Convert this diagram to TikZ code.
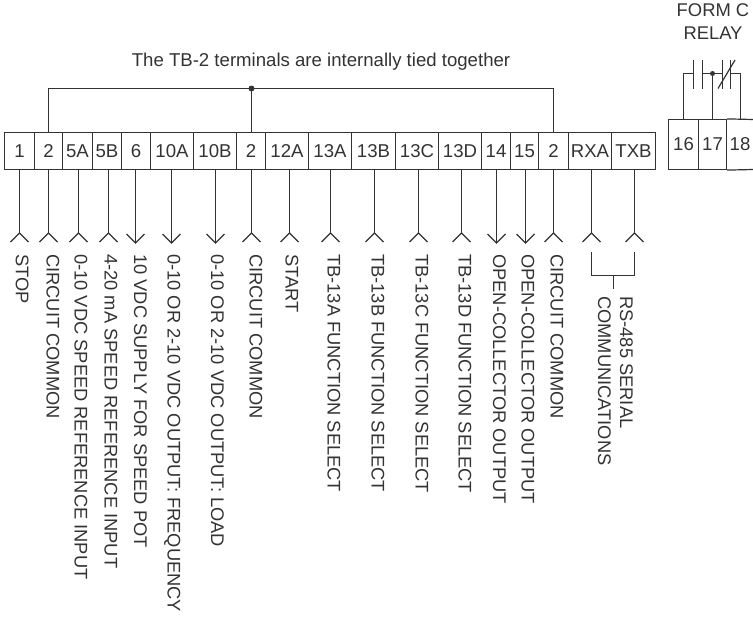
\documentclass[tikz,border=0pt]{standalone}
\usepackage{fontspec}
\setmainfont{Liberation Sans}
\definecolor{ink}{HTML}{333333}
\tikzset{
  wire/.style={draw=ink,line width=1.2pt},
  term/.style={draw=ink,line width=1.2pt,inner sep=0pt,minimum height=37pt,text=ink,font=\fontsize{18.6}{18.6}\selectfont},
  relayterm/.style={term,minimum height=50pt},
  vlabel/.style={rotate=-90,anchor=base west,inner sep=0pt,text=ink,font=\fontsize{18.3}{18.3}\selectfont},
  title/.style={inner sep=0pt,text=ink,font=\fontsize{18.6}{18.6}\selectfont},
  junction/.style={circle,fill=ink,inner sep=0pt,minimum size=6pt}
}
\begin{document}
\begin{tikzpicture}[x=1pt,y=-1pt]
\useasboundingbox (0,0) rectangle (753,621);
% terminal strip: name / left / right / text
\foreach \n/\l/\r/\t in {a/4.5/34.5/1,b/34.5/62.5/2,c/62.5/92.5/5A,d/92.5/121.5/5B,e/121.5/150.5/6,f/150.5/193.5/10A,g/193.5/236.5/10B,h/236.5/265.5/2,i/265.5/308.5/12A,j/308.5/351.5/13A,k/351.5/395.5/13B,l/395.5/438.5/13C,m/438.5/481.5/13D,n/481.5/510.5/14,o/510.5/538.5/15,p/538.5/568.5/2,q/568.5/611.5/RXA,r/611.5/655.5/TXB}{
  \node[term,minimum width={\r pt-\l pt}] (t\n) at ({(\l+\r)/2},151) {\t};
}
% relay terminals
\node[relayterm,minimum width=30pt] (t16) at (683.5,144.5) {16};
\node[relayterm,minimum width=28pt] (t17) at (712.5,144.5) {17};
\node[inner sep=0pt,text=ink,font=\fontsize{18.6}{18.6}\selectfont] (t18) at (740,144.5) {18};
\coordinate (relayend) at (753,119.5);
\coordinate (relayendb) at (753,169.5);
\draw[wire] (t17.north east) -- (relayend);
\draw[wire] (t17.south east) -- (relayendb);
% fork tips (signal into the drive) : name / wire x / label centre x / text
\foreach \n/\x/\c/\t in {a/19.5/21.5/STOP,b/48.5/52/CIRCUIT COMMON,c/78.5/80/0-10 VDC SPEED REFERENCE INPUT,d/108.5/110/4-20 mA SPEED REFERENCE INPUT,h/251.5/255/CIRCUIT COMMON,i/289.5/291/START,j/330.5/333/TB-13A FUNCTION SELECT,k/374.5/377/TB-13B FUNCTION SELECT,l/418.5/421/TB-13C FUNCTION SELECT,m/461.5/464/TB-13D FUNCTION SELECT,p/553.5/556/CIRCUIT COMMON}{
  \coordinate (tip\n) at (\x,233);
  \draw[wire] (t\n.south -| tip\n) -- (tip\n);
  \draw[wire,line join=miter] ([xshift=-9pt,yshift=-9pt]tip\n) -- (tip\n) -- ([xshift=9pt,yshift=-9pt]tip\n);
  \node[vlabel] (lab\n) at (\c-5.5,254) {\t};
}
% arrow tips (signal out of the drive)
\foreach \n/\x/\c/\t in {e/135.5/139.5/10 VDC SUPPLY FOR SPEED POT,f/171.5/173/0-10 OR 2-10 VDC OUTPUT: FREQUENCY,g/215.5/216.5/0-10 OR 2-10 VDC OUTPUT: LOAD,n/496.5/498.5/OPEN-COLLECTOR OUTPUT,o/525.5/527/OPEN-COLLECTOR OUTPUT}{
  \coordinate (tip\n) at (\x,243);
  \draw[wire] (t\n.south -| tip\n) -- (tip\n);
  \draw[wire,line join=miter] ([xshift=-9pt,yshift=9pt]tip\n) -- (tip\n) -- ([xshift=9pt,yshift=9pt]tip\n);
  \node[vlabel] (lab\n) at (\c-5.5,254) {\t};
}
% RS-485 pair
\foreach \n/\x in {q/591.5,r/634.5}{
  \coordinate (tip\n) at (\x,233);
  \draw[wire] (t\n.south -| tip\n) -- (tip\n);
  \draw[wire,line join=miter] ([xshift=-9pt,yshift=-9pt]tip\n) -- (tip\n) -- ([xshift=9pt,yshift=-9pt]tip\n);
}
\coordinate (brq) at (591.5,252);
\coordinate (brr) at (634.5,252);
\coordinate (brm) at (613.5,275.5);
\coordinate (brs) at (613.5,289);
\draw[wire] (brq) |- (brm) -| (brr);
\draw[wire] (brm) -- (brs);
\node[vlabel] (labrs) at (625.5-5.5,296) {RS-485 SERIAL};
\node[vlabel] (labcomm) at (603.5-5.5,296) {COMMUNICATIONS};
% TB-2 bus
\node[title] (bustitle) at (321,62) {The TB-2 terminals are internally tied together};
\coordinate (busl) at (48.5,88.5);
\coordinate (busr) at (553.5,88.5);
\node[junction] (busdot) at (251.5,88.5) {};
\draw[wire] (tb.north -| busl) -- (busl) -- (busr) -- (tp.north -| busr);
\draw[wire] (busdot.center) -- (th.north -| busdot);
% relay contact
\node[title,font=\fontsize{18.4}{18.4}\selectfont] (formc) at (713,10.5) {FORM C};
\node[title,font=\fontsize{18.4}{18.4}\selectfont] (relay) at (713,33) {RELAY};
\coordinate (c16) at (683.5,73.5);
\coordinate (c18) at (740.5,73.5);
\coordinate (p1t) at (693.5,60); \coordinate (p1b) at (693.5,88.5);
\coordinate (p2t) at (702.5,60); \coordinate (p2b) at (702.5,88.5);
\coordinate (p3t) at (722.5,60); \coordinate (p3b) at (722.5,88.5);
\coordinate (p4t) at (730.5,60); \coordinate (p4b) at (730.5,88.5);
\coordinate (slasha) at (718,88.5); \coordinate (slashb) at (735,60);
\node[junction,minimum size=5pt] (reldot) at (712.5,73.5) {};
\draw[wire] (t16.north -| c16) -- (c16) -- (c16 -| p1t);
\draw[wire] (p1t) -- (p1b);
\draw[wire] (p2t) -- (p2b);
\draw[wire] (c16 -| p2t) -- (c16 -| p3t);
\draw[wire] (p3t) -- (p3b);
\draw[wire] (p4t) -- (p4b);
\draw[wire] (slasha) -- (slashb);
\draw[wire] (c18 -| p4t) -- (c18) -- (relayend -| c18);
\draw[wire] (reldot.center) -- (t17.north -| reldot);
\end{tikzpicture}
\end{document}
